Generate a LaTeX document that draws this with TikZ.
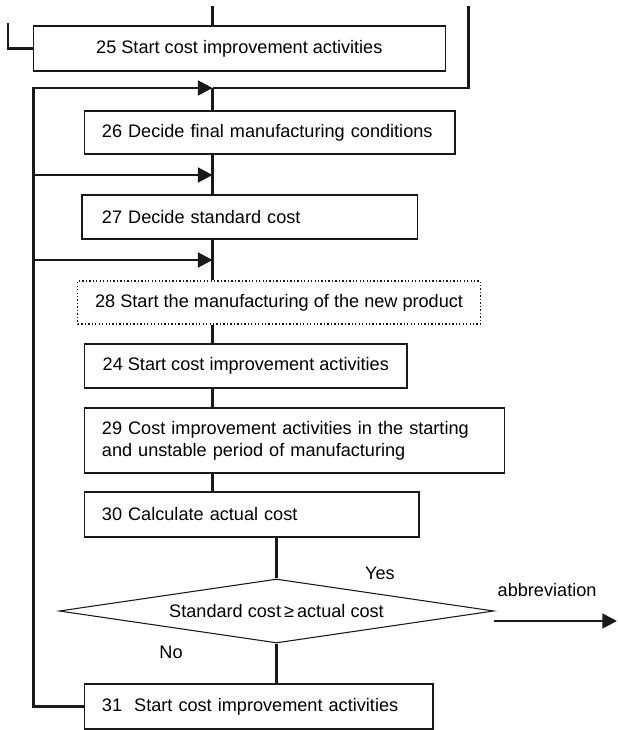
\documentclass[tikz,border=0pt]{standalone}
\usepackage{fontspec}
\setmainfont{Liberation Sans}
\usetikzlibrary{arrows.meta, positioning, shapes.geometric, calc}

\begin{document}
\begin{tikzpicture}[
    x=0.75pt, y=-0.75pt,
    >={Triangle[length=11pt, width=11pt]},
    every node/.style={font=\fontsize{13.6pt}{16.5pt}\selectfont, text=black},
    box/.style={rectangle, draw=black!90, line width=0.8pt, align=left, inner xsep=13pt, inner ysep=0pt, minimum height=33pt},
    centerbox/.style={box, align=center},
    dotbox/.style={centerbox, dash pattern=on 1pt off 1.6pt, line width=1pt},
    decision/.style={diamond, draw=black!90, line width=0.8pt, minimum width=326pt, minimum height=48pt, inner sep=0pt, shape aspect=6.8},
    flow/.style={line width=2pt, draw=black!90},
    arrow/.style={flow, ->},
    lbl/.style={inner sep=0pt}
]
\useasboundingbox (0,0) rectangle (617,730);

% =============================================================
% Incoming lines from above
% =============================================================
\coordinate (intop) at (212.6,6);
\coordinate (inright) at (468.5,6);
\coordinate (inleft) at (8,23);
\coordinate (loopx) at (33.5,0);

% Junctions on the main line
\coordinate (j1) at (212.6,88);
\coordinate (j2) at (212.6,175);
\coordinate (j3) at (212.6,260);

% =============================================================
% Process boxes
% =============================================================
\node[centerbox, minimum width=308.6pt, minimum height=33.75pt] (startA) at (239.3,48.5) {25 Start cost improvement activities};
\node[box, text width=251.8pt, minimum height=32.25pt] (final) at (269.8,132.5) {26 Decide final manufacturing conditions};
\node[box, inner xsep=15pt, text width=221.3pt] (stdcost) at (249.5,217) {27 Decide standard cost};
\node[dotbox, minimum width=291.75pt, minimum height=32.25pt] (mfg) at (279.1,302.5) {28 Start the manufacturing of the new product};
\node[centerbox, minimum width=241.8pt] (startB) at (245.8,366) {24 Start cost improvement activities};
\node[box, text width=289pt, minimum height=48.75pt] (unstable) at (294.6,440.5) {29 Cost improvement activities in the starting\\and unstable period of manufacturing};
\node[box, text width=224.8pt, minimum height=33.75pt] (actual) at (251.8,514.5) {30 Calculate actual cost};
\node[decision] (check) at (276.5,611) {Standard cost\,≥\,actual cost};
\node[box, text width=235.3pt, minimum height=33.75pt] (startC) at (258.8,706.5) {31~ Start cost improvement activities};

% Decision labels
\node[lbl] (yes) at (380,573) {Yes};
\node[lbl] (no) at (171,652) {No};
\coordinate (out) at (617,621);

% =============================================================
% Connectors
% =============================================================
\draw[flow] (intop) -- (intop |- startA.north);
\draw[flow] (inleft) |- (startA.west);
\draw[flow] (inright) |- (j1);

% main line
\draw[flow] (j1) -- (j1 |- final.north);
\draw[flow] (j1 |- final.south) -- (j1 |- stdcost.north);
\draw[flow] (j1 |- stdcost.south) -- (j1 |- mfg.north);
\draw[flow] (j1 |- mfg.south) -- (j1 |- startB.north);
\draw[flow] (j1 |- startB.south) -- (j1 |- unstable.north);
\draw[flow] (j1 |- unstable.south) -- (j1 |- actual.north);
\draw[flow] (check.north |- actual.south) -- (check.north);
\draw[flow] (check.south) -- (check.south |- startC.north);

% feedback loop on the left
\draw[arrow] (startC.west) -| (loopx |- j1) -- (j1);
\draw[arrow] (loopx |- j2) -- (j2);
\draw[arrow] (loopx |- j3) -- (j3);

% exit to the right
\draw[arrow] (check.east |- out) -- node[lbl, pos=0.43, yshift=23pt] {abbreviation} (out);

\end{tikzpicture}
\end{document}
